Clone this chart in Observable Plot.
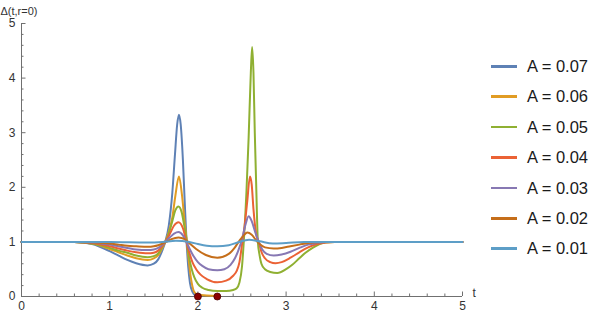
<!DOCTYPE html>
<html><head><meta charset="utf-8">
<script src="https://cdn.jsdelivr.net/npm/d3@7"></script>
<script src="https://cdn.jsdelivr.net/npm/@observablehq/plot@0.6"></script>
<style>
html,body{margin:0;padding:0;background:#fff;}
#wrap{position:relative;width:599px;height:316px;font-family:"Liberation Sans",Arial,sans-serif;}
#legend{position:absolute;left:491px;top:0;}
.item{position:absolute;left:0;width:108px;height:20px;}
.sw{position:absolute;left:0;top:9px;width:26px;height:2.5px;}
.lab{position:absolute;left:36px;top:0;font-size:16.5px;line-height:20px;color:#1a1a1a;white-space:nowrap;}
</style></head>
<body><div id="wrap"></div>
<script>
// amplitudes (legend order) and colours
const amplitudes = ["0.07", "0.06", "0.05", "0.04", "0.03", "0.02", "0.01"];
const colors = ["#5E81B5", "#E19C24", "#8FB032", "#EB6235", "#8778B3", "#C56E1A", "#5D9EC7"];

// A = 0.07
const t07 = [0, 0.6, 0.8, 1.0, 1.1, 1.2, 1.3, 1.43, 1.5, 1.55, 1.6, 1.63, 1.67, 1.71, 1.74, 1.765, 1.785, 1.805, 1.83, 1.85, 1.87, 1.89, 1.91, 1.94, 1.97, 2.0];
const v07 = [1, 1, 0.96, 0.83, 0.75, 0.67, 0.61, 0.57, 0.6, 0.68, 0.86, 1.0, 1.3, 1.9, 2.6, 3.15, 3.33, 3.15, 2.5, 1.75, 1.05, 0.55, 0.25, 0.08, 0.02, 0];
// A = 0.06
const t06 = [0, 0.6, 0.8, 1.0, 1.1, 1.2, 1.3, 1.43, 1.5, 1.55, 1.6, 1.63, 1.67, 1.71, 1.745, 1.785, 1.82, 1.85, 1.875, 1.9, 1.93, 1.96, 2.0, 2.1, 2.22];
const v06 = [1, 1, 0.97, 0.87, 0.81, 0.75, 0.7, 0.67, 0.7, 0.76, 0.9, 1.0, 1.18, 1.45, 1.85, 2.2, 1.85, 1.35, 1.0, 0.6, 0.25, 0.08, 0.03, 0.02, 0.01];
// A = 0.05
const t05 = [0, 0.6, 0.8, 1.0, 1.1, 1.2, 1.3, 1.43, 1.5, 1.55, 1.6, 1.63, 1.67, 1.71, 1.745, 1.78, 1.815, 1.85, 1.875, 1.9, 1.93, 1.96, 2.0, 2.05, 2.12, 2.22, 2.32, 2.4, 2.44, 2.47, 2.5, 2.52, 2.55, 2.575, 2.6, 2.615, 2.63, 2.645, 2.66, 2.68, 2.7, 2.72, 2.76, 2.82, 2.9, 3.0, 3.07, 3.15, 3.22, 3.3, 3.38, 3.45, 3.55, 5];
const v05 = [1, 1, 0.97, 0.89, 0.84, 0.8, 0.75, 0.72, 0.74, 0.79, 0.92, 1.0, 1.15, 1.38, 1.58, 1.65, 1.55, 1.25, 1.0, 0.72, 0.5, 0.35, 0.23, 0.16, 0.12, 0.1, 0.1, 0.12, 0.15, 0.25, 0.55, 1.0, 1.9, 2.9, 4.1, 4.57, 4.1, 3.0, 2.1, 1.0, 0.75, 0.6, 0.5, 0.45, 0.43, 0.5, 0.58, 0.7, 0.8, 0.89, 0.96, 0.99, 1.0, 1.0];
// A = 0.04
const t04 = [0, 0.6, 0.8, 1.0, 1.1, 1.2, 1.3, 1.43, 1.5, 1.55, 1.6, 1.63, 1.68, 1.73, 1.78, 1.83, 1.87, 1.9, 1.94, 1.98, 2.03, 2.1, 2.22, 2.32, 2.4, 2.44, 2.47, 2.5, 2.53, 2.56, 2.59, 2.61, 2.63, 2.66, 2.69, 2.72, 2.76, 2.82, 2.88, 2.95, 3.05, 3.15, 3.25, 3.35, 3.45, 3.55, 5];
const v04 = [1, 1, 0.98, 0.92, 0.88, 0.84, 0.81, 0.79, 0.8, 0.84, 0.93, 1.0, 1.14, 1.3, 1.36, 1.25, 1.0, 0.82, 0.62, 0.5, 0.4, 0.32, 0.26, 0.29, 0.38, 0.47, 0.62, 0.95, 1.3, 1.75, 2.2, 2.05, 1.6, 1.15, 1.0, 0.82, 0.7, 0.63, 0.61, 0.63, 0.71, 0.81, 0.9, 0.96, 0.99, 1.0, 1.0];
// A = 0.03
const t03 = [0, 0.6, 0.8, 1.0, 1.1, 1.2, 1.3, 1.43, 1.5, 1.55, 1.6, 1.63, 1.68, 1.73, 1.78, 1.83, 1.87, 1.91, 1.95, 2.0, 2.05, 2.12, 2.22, 2.3, 2.37, 2.42, 2.46, 2.5, 2.54, 2.575, 2.61, 2.65, 2.69, 2.73, 2.78, 2.86, 2.95, 3.05, 3.15, 3.25, 3.35, 3.45, 5];
const v03 = [1, 1, 0.99, 0.95, 0.92, 0.89, 0.86, 0.85, 0.86, 0.89, 0.95, 1.0, 1.08, 1.15, 1.18, 1.12, 1.0, 0.86, 0.74, 0.63, 0.56, 0.5, 0.48, 0.5, 0.58, 0.7, 0.85, 1.05, 1.32, 1.47, 1.38, 1.18, 1.0, 0.86, 0.78, 0.75, 0.77, 0.82, 0.89, 0.95, 0.98, 1.0, 1.0];
// A = 0.02
const t02 = [0, 0.6, 0.8, 1.0, 1.1, 1.2, 1.3, 1.43, 1.5, 1.55, 1.6, 1.64, 1.7, 1.78, 1.85, 1.9, 1.98, 2.09, 2.22, 2.35, 2.42, 2.47, 2.52, 2.56, 2.61, 2.66, 2.7, 2.76, 2.86, 2.95, 3.05, 3.15, 3.25, 3.35, 3.45, 5];
const v02 = [1, 1, 0.99, 0.97, 0.95, 0.93, 0.92, 0.91, 0.92, 0.94, 0.97, 1.0, 1.05, 1.08, 1.05, 0.98, 0.87, 0.76, 0.71, 0.78, 0.9, 1.02, 1.12, 1.17, 1.13, 1.03, 0.96, 0.9, 0.88, 0.89, 0.92, 0.95, 0.98, 0.99, 1.0, 1.0];
// A = 0.01
const t01 = [0, 1.0, 1.43, 1.6, 1.75, 1.9, 2.0, 2.1, 2.22, 2.35, 2.45, 2.58, 2.7, 2.85, 3.0, 3.2, 5];
const v01 = [1, 1, 0.99, 1.0, 1.02, 1.0, 0.96, 0.93, 0.92, 0.94, 0.99, 1.04, 1.01, 0.97, 0.98, 1.0, 1.0];

// collapse points (red dots)
const dotT = [2.0, 2.22];
const dotV = [0, 0];

// ticks
const xMajor = [0, 1, 2, 3, 4, 5];
const xLabels = ["0", "1", "2", "3", "4", "5"];
const xMinor = [0.2, 0.4, 0.6, 0.8, 1.2, 1.4, 1.6, 1.8, 2.2, 2.4, 2.6, 2.8, 3.2, 3.4, 3.6, 3.8, 4.2, 4.4, 4.6, 4.8];
const yMajor = [0, 1, 2, 3, 4, 5];
const yLabels = ["0", "1", "2", "3", "4", "5"];
const yMinor = [0.2, 0.4, 0.6, 0.8, 1.2, 1.4, 1.6, 1.8, 2.2, 2.4, 2.6, 2.8, 3.2, 3.4, 3.6, 3.8, 4.2, 4.4, 4.6, 4.8];

const xTitle = "t";
const yTitle = "Δ(t,r=0)";

const seriesT = [t07, t06, t05, t04, t03, t02, t01];
const seriesV = [v07, v06, v05, v04, v03, v02, v01];
const names = amplitudes.map(a => "A = " + a);
const rows = [];
seriesT.forEach((ts, i) => ts.forEach((t, j) => rows.push({A: names[i], t, v: seriesV[i][j]})));
const dots = dotT.map((t, i) => ({t, v: dotV[i]}));

const axisColor = "#707070";
const font = "'Liberation Sans', Arial, sans-serif";

const chart = Plot.plot({
  width: 599, height: 316,
  marginLeft: 21, marginRight: 137, marginTop: 23, marginBottom: 20,
  x: {domain: [0, 5]},
  y: {domain: [0, 5]},
  color: {domain: names, range: colors},
  style: {fontFamily: font, fontSize: "12px", color: "#333", background: "white", overflow: "visible"},
  marks: [
    Plot.ruleY([0], {stroke: axisColor}),
    Plot.ruleX([0], {stroke: axisColor}),
    Plot.axisX(xMinor, {tickSize: -2.5, tickFormat: () => "", label: null, stroke: axisColor}),
    Plot.axisX(xMajor, {tickSize: -4.5, tickFormat: () => "", label: null, stroke: axisColor}),
    Plot.axisX(xMajor, {tickSize: 0, tickPadding: 5, label: null, tickFormat: d => xLabels[xMajor.indexOf(d)]}),
    Plot.axisY(yMinor, {tickSize: -2.5, tickFormat: () => "", label: null, stroke: axisColor}),
    Plot.axisY(yMajor, {tickSize: -4.5, tickFormat: () => "", label: null, stroke: axisColor}),
    Plot.axisY(yMajor, {tickSize: 0, tickPadding: 6, label: null, tickFormat: d => yLabels[yMajor.indexOf(d)]}),
    Plot.line(rows, {x: "t", y: "v", z: "A", stroke: "A", strokeWidth: 2, curve: "monotone-x"}),
    Plot.dot(dots, {x: "t", y: "v", r: 3.5, fill: "#8b0000", stroke: "#4a0000", strokeWidth: 0.8}),
    Plot.text([yTitle], {frameAnchor: "top-left", dx: -21, dy: -16, textAnchor: "start", fontSize: 11, fill: "#333"}),
    Plot.text([xTitle], {frameAnchor: "bottom-right", dx: 10, dy: 0, textAnchor: "start", fontSize: 12, fill: "#333"})
  ]
});

const wrap = document.getElementById("wrap");
wrap.appendChild(chart);
const legend = document.createElement("div");
legend.id = "legend";
names.forEach((n, i) => {
  const item = document.createElement("div");
  item.className = "item";
  item.style.top = (56 + 30.4 * i) + "px";
  const sw = document.createElement("div");
  sw.className = "sw";
  sw.style.background = colors[i];
  const lab = document.createElement("span");
  lab.className = "lab";
  lab.textContent = n;
  item.appendChild(sw);
  item.appendChild(lab);
  legend.appendChild(item);
});
wrap.appendChild(legend);
</script>
</body></html>
